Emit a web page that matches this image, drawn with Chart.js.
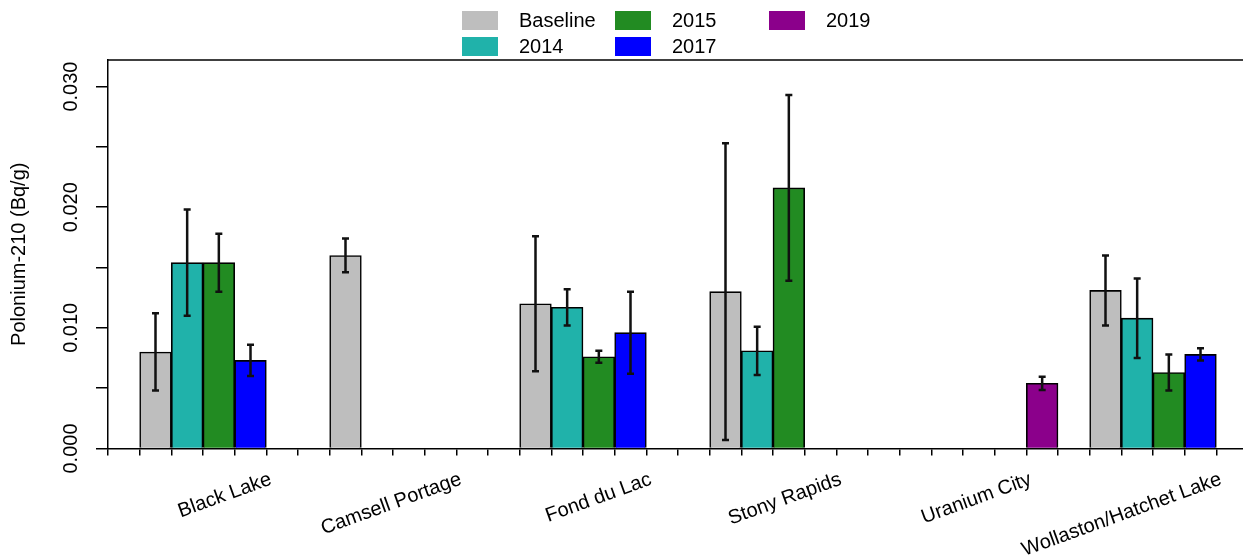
<!DOCTYPE html>
<html><head><meta charset="utf-8">
<script src="https://cdn.jsdelivr.net/npm/chart.js@4"></script>
<style>html,body{margin:0;padding:0;background:#fff;overflow:hidden;} #wrap{width:1260px;height:557px;position:relative;}</style>
</head><body><div id="wrap"><canvas id="c" width="1260" height="557"></canvas></div>
<script>
// ---- data ----
const categories = ['Black Lake', 'Camsell Portage', 'Fond du Lac', 'Stony Rapids', 'Uranium City', 'Wollaston/Hatchet Lake'];
const seriesNames = ['Baseline', '2014', '2015', '2017', '2019'];
const baselineValues = [0.0080, 0.0160, 0.0120, 0.0130, null, 0.0131];
const baselineSD     = [0.0032, 0.0014, 0.0056, 0.0123, null, 0.0029];
const y2014Values    = [0.0154, null, 0.0117, 0.0081, null, 0.0108];
const y2014SD        = [0.0044, null, 0.0015, 0.0020, null, 0.0033];
const y2015Values    = [0.0154, null, 0.0076, 0.0216, null, 0.0063];
const y2015SD        = [0.0024, null, 0.0005, 0.0077, null, 0.0015];
const y2017Values    = [0.0073, null, 0.0096, null, null, 0.0078];
const y2017SD        = [0.0013, null, 0.0034, null, null, 0.0005];
const y2019Values    = [null, null, null, null, 0.0054, null];
const y2019SD        = [null, null, null, null, 0.00055, null];
const yTickLabels = ['0.000', '0.010', '0.020', '0.030'];

// ---- styles ----
const seriesColors = ['#BEBEBE', '#20B2AA', '#228B22', '#0000FF', '#8B008B'];
const FONT = "'Liberation Sans', Arial, Helvetica, sans-serif";

// ---- build slot layout (1 gap slot + 5 bar slots per category) ----
const slotsPerGroup = seriesNames.length + 1;
const nSlots = categories.length * slotsPerGroup;
const slotLabels = new Array(nSlots).fill('');
categories.forEach((c, g) => { slotLabels[g * slotsPerGroup + 3] = c; });
const allValues = [baselineValues, y2014Values, y2015Values, y2017Values, y2019Values];
const allSD = [baselineSD, y2014SD, y2015SD, y2017SD, y2019SD];
const datasets = seriesNames.map((name, s) => {
  const data = new Array(nSlots).fill(null);
  const err = new Array(nSlots).fill(null);
  categories.forEach((c, g) => {
    data[g * slotsPerGroup + 1 + s] = allValues[s][g];
    err[g * slotsPerGroup + 1 + s] = allSD[s][g];
  });
  return {
    label: name, data, errors: err,
    backgroundColor: seriesColors[s], borderColor: '#000', borderWidth: 1.6,
    grouped: false, barPercentage: 1, categoryPercentage: 1
  };
});

const errorBars = {
  id: 'errorBars',
  afterDatasetsDraw(chart) {
    const ctx = chart.ctx, y = chart.scales.y;
    ctx.save();
    ctx.strokeStyle = '#111'; ctx.lineWidth = 2.5;
    chart.data.datasets.forEach((ds, i) => {
      const meta = chart.getDatasetMeta(i);
      meta.data.forEach((el, j) => {
        const v = ds.data[j], e = ds.errors[j];
        if (v == null || e == null) return;
        const top = y.getPixelForValue(v + e), bot = y.getPixelForValue(v - e);
        ctx.beginPath();
        ctx.moveTo(el.x, top); ctx.lineTo(el.x, bot);
        ctx.moveTo(el.x - 3.5, top); ctx.lineTo(el.x + 3.5, top);
        ctx.moveTo(el.x - 3.5, bot); ctx.lineTo(el.x + 3.5, bot);
        ctx.stroke();
      });
    });
    ctx.restore();
  }
};

const extras = {
  id: 'extras',
  afterDraw(chart) {
    const ctx = chart.ctx, a = chart.chartArea, y = chart.scales.y;
    ctx.save();
    // top frame line
    ctx.strokeStyle = '#000'; ctx.lineWidth = 1.5;
    ctx.beginPath(); ctx.moveTo(a.left - 0.75, a.top); ctx.lineTo(chart.width, a.top); ctx.stroke();
    // rotated y tick labels
    ctx.fillStyle = '#000'; ctx.font = '20px ' + FONT;
    ctx.textAlign = 'center'; ctx.textBaseline = 'alphabetic';
    y.ticks.forEach(t => {
      if (!t.label) return;
      const py = y.getPixelForValue(t.value);
      ctx.save(); ctx.translate(77, py); ctx.rotate(-Math.PI / 2);
      ctx.fillText(t.label, 0, 0); ctx.restore();
    });
    // legend (column-major, 2 rows)
    const colX = [462, 615, 769];
    const rowY = [11, 37];
    ctx.textAlign = 'left'; ctx.textBaseline = 'middle';
    chart.data.datasets.forEach((ds, i) => {
      const col = Math.floor(i / 2), row = i % 2;
      const bx = colX[col], by = rowY[row];
      ctx.fillStyle = ds.backgroundColor;
      ctx.fillRect(bx, by, 36, 19);
      ctx.fillStyle = '#000';
      ctx.fillText(ds.label, bx + 57, by + 10.5);
    });
    ctx.restore();
  }
};

Chart.defaults.font.family = FONT;
Chart.defaults.font.size = 20;
Chart.defaults.color = '#000';

new Chart(document.getElementById('c'), {
  type: 'bar',
  data: { labels: slotLabels, datasets },
  options: {
    responsive: false, animation: false, devicePixelRatio: 1,
    layout: { padding: { top: 60, right: 12, left: 0, bottom: 0 } },
    plugins: { legend: { display: false }, tooltip: { enabled: false } },
    scales: {
      x: {
        offset: true,
        grid: { display: true, drawOnChartArea: false, drawTicks: true, tickLength: 7, color: '#000', lineWidth: 1.5, offset: true },
        border: { display: true, color: '#000', width: 1.5 },
        ticks: { autoSkip: false, maxRotation: 20, minRotation: 20, labelOffset: 52, padding: 12, font: { size: 20 }, color: '#000' },
        afterFit(s) { s.height = 108.5; }
      },
      y: {
        min: 0, max: 0.0322,
        grid: { display: true, drawOnChartArea: false, drawTicks: true, tickLength: 12, color: '#000', lineWidth: 1.5 },
        border: { display: true, color: '#000', width: 1.5 },
        ticks: {
          display: false, stepSize: 0.005, includeBounds: false,
          callback: v => { const s = Number(v).toFixed(3); return yTickLabels.includes(s) ? s : ''; }
        },
        title: { display: true, text: 'Polonium-210 (Bq/g)', font: { size: 20 }, color: '#000', padding: { top: 7, bottom: 0 } },
        afterFit(s) { s.width = 108; }
      }
    }
  },
  plugins: [errorBars, extras]
});
</script></body></html>
